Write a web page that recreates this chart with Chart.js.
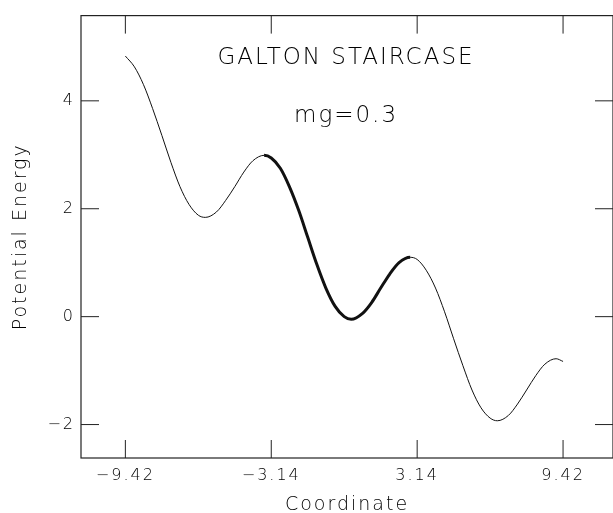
<!DOCTYPE html>
<html>
<head>
<meta charset="utf-8">
<script src="https://cdn.jsdelivr.net/npm/chart.js@4"></script>
<style>
  html, body { margin: 0; padding: 0; background: #fff; }
</style>
</head>
<body>
<canvas id="chart" width="613" height="513"></canvas>
<script>
// values
const coordinate = [-9.42, -9.03, -8.64, -8.25, -7.85, -7.46, -7.07, -6.68, -6.28, -5.98,
  -5.50, -5.11, -4.71, -4.32, -3.93, -3.45, -3.14, -2.75, -2.36, -1.96, -1.57, -1.18, -0.79,
  -0.39, 0, 0.30, 0.79, 1.18, 1.57, 1.96, 2.36, 2.84, 3.14, 3.53, 3.93, 4.32, 4.71, 5.11,
  5.50, 5.89, 6.28, 6.59, 7.07, 7.46, 7.85, 8.25, 8.64, 9.12, 9.42];
const potential = [4.83, 4.63, 4.30, 3.86, 3.36, 2.86, 2.41, 2.08, 1.88, 1.84,
  1.94, 2.15, 2.41, 2.68, 2.89, 2.99, 2.94, 2.75, 2.41, 1.97, 1.47, 0.97, 0.53,
  0.19, 0, -0.05, 0.06, 0.26, 0.53, 0.79, 1.00, 1.10, 1.06, 0.86, 0.53, 0.09, -0.41, -0.91,
  -1.36, -1.69, -1.88, -1.93, -1.83, -1.62, -1.36, -1.09, -0.88, -0.78, -0.83];
const boldRange = [-3.45, 2.84];
const xTicks = [-9.42, -3.14, 3.14, 9.42];
const yTicks = [-2, 0, 2, 4];
const titleLines = ["GALTON STAIRCASE", "mg=0.3"];

const fontFamily = "'DejaVu Sans', sans-serif";
const ink = "#000";

function minusLabel(v, digits) {
  let s = Math.abs(v).toFixed(digits);
  return v < 0 ? "\u2212" + s : s;
}

const framePlugin = {
  id: "frame",
  beforeDraw(chart) {
    chart.ctx.letterSpacing = "2px";
  },
  afterDraw(chart) {
    let ctx = chart.ctx;
    let { left, right, top, bottom } = chart.chartArea;
    let x = chart.scales.x;
    let y = chart.scales.y;
    let len = 18;
    ctx.save();
    ctx.strokeStyle = "#222";
    ctx.lineWidth = 1.2;
    ctx.strokeRect(left, top, right - left, bottom - top);
    ctx.lineWidth = 1;
    ctx.beginPath();
    xTicks.forEach((v) => {
      let px = x.getPixelForValue(v);
      ctx.moveTo(px, bottom);
      ctx.lineTo(px, bottom - len);
      ctx.moveTo(px, top);
      ctx.lineTo(px, top + len);
    });
    yTicks.forEach((v) => {
      let py = y.getPixelForValue(v);
      ctx.moveTo(left, py);
      ctx.lineTo(left + len, py);
      ctx.moveTo(right, py);
      ctx.lineTo(right - len, py);
    });
    ctx.stroke();

    ctx.fillStyle = ink;
    ctx.textAlign = "center";
    ctx.textBaseline = "alphabetic";
    ctx.font = "300 23px " + fontFamily;
    let cx = (left + right) / 2 - 1;
    ctx.fillText(titleLines[0], cx, 64);
    ctx.fillText(titleLines[1], cx, 122);
    ctx.restore();
  },
};

new Chart(document.getElementById("chart"), {
  type: "line",
  data: {
    datasets: [
      {
        data: coordinate.map((c, i) => ({ x: c, y: potential[i] })),
        borderColor: "#111",
        borderWidth: 1,
        pointRadius: 0,
        cubicInterpolationMode: "monotone",
        segment: {
          borderWidth: (ctx) =>
            ctx.p0.parsed.x >= boldRange[0] - 1e-6 && ctx.p1.parsed.x <= boldRange[1] + 1e-6 ? 3 : 1,
        },
      },
    ],
  },
  options: {
    responsive: false,
    devicePixelRatio: 1,
    animation: false,
    layout: { padding: { top: 12, right: -3, left: 0, bottom: 0 } },
    plugins: { legend: { display: false }, tooltip: { enabled: false } },
    scales: {
      x: {
        type: "linear",
        min: -11.33,
        max: 11.57,
        afterFit: (s) => { s.height = 55; },
        afterBuildTicks: (s) => { s.ticks = xTicks.map((v) => ({ value: v })); },
        grid: { display: false, drawTicks: false },
        border: { display: false },
        ticks: {
          autoSkip: false,
          maxRotation: 0,
          padding: 8,
          color: ink,
          font: { family: fontFamily, size: 16, weight: 300 },
          callback: (v) => minusLabel(v, 2),
        },
        title: {
          display: true,
          text: "Coordinate",
          color: ink,
          padding: { top: 0, bottom: 0 },
          font: { family: fontFamily, size: 19, weight: 300, lineHeight: 0.8 },
        },
      },
      y: {
        type: "linear",
        min: -2.62,
        max: 5.58,
        afterFit: (s) => { s.width = 81; },
        afterBuildTicks: (s) => { s.ticks = yTicks.map((v) => ({ value: v })); },
        grid: { display: false, drawTicks: false },
        border: { display: false },
        ticks: {
          padding: 6,
          color: ink,
          font: { family: fontFamily, size: 16, weight: 300 },
          callback: (v) => minusLabel(v, 0),
        },
        title: {
          display: true,
          text: "Potential Energy",
          color: ink,
          padding: { top: 10, bottom: 0 },
          font: { family: fontFamily, size: 19, weight: 300 },
        },
      },
    },
  },
  plugins: [framePlugin],
});
</script>
</body>
</html>
